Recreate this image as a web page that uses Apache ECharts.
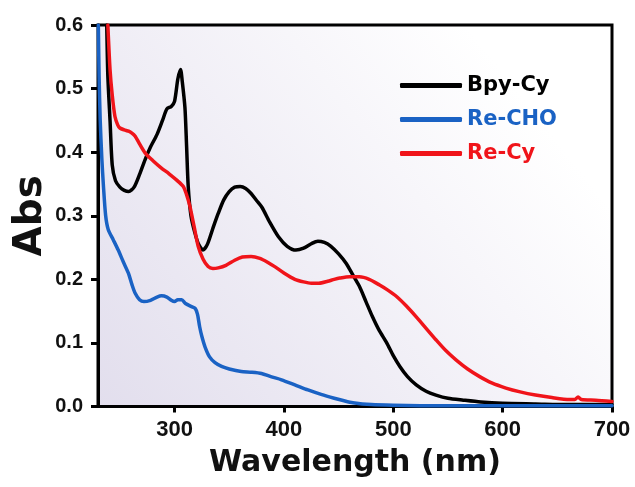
<!DOCTYPE html>
<html>
<head>
<meta charset="utf-8">
<style>
  html, body { margin: 0; padding: 0; background: #fff; }
  #chart { width: 635px; height: 487px; }
</style>
<script src="https://cdn.jsdelivr.net/npm/echarts@6/dist/echarts.min.js"></script>
</head>
<body>
<div id="chart"></div>
<script>
// UV-vis absorption spectra: [wavelength (nm), absorbance]
const bpyCy = [
  [238,0.60],[239,0.52],[241,0.45],[243,0.38],[246,0.355],[250,0.345],[254,0.340],[258,0.338],
  [263,0.345],[268,0.365],[273,0.388],[278,0.408],[284,0.428],[289,0.450],[293,0.468],[297,0.472],
  [300,0.480],[303,0.515],[305.5,0.530],[307,0.512],[309.5,0.470],[311,0.410],[312.5,0.346],
  [315,0.300],[318.6,0.273],[322,0.255],[326,0.246],[330,0.255],[335,0.280],[340,0.304],
  [345,0.325],[350,0.338],[355,0.345],[360,0.346],[365,0.343],[370,0.335],[375,0.324],[380,0.313],
  [387,0.290],[395,0.267],[403,0.252],[411,0.246],[418,0.249],[425,0.256],[431,0.260],[437,0.258],
  [443,0.252],[450,0.240],[457,0.225],[463,0.207],[469,0.189],[475,0.165],[481,0.141],[487,0.120],
  [494,0.100],[500,0.080],[506,0.063],[513,0.047],[521,0.034],[530,0.024],[539,0.018],[550,0.013],
  [564,0.010],[580,0.007],[600,0.005],[630,0.004],[660,0.003],[700,0.003]
];
const reCho = [
  [230.3,0.60],[231,0.52],[232,0.451],[233.5,0.390],[235,0.346],[237,0.300],[239.4,0.278],
  [244,0.262],[248.5,0.246],[253,0.228],[257.7,0.210],[261,0.192],[264,0.178],[268,0.168],
  [272,0.165],[278,0.167],[284,0.172],[288,0.174],[293,0.172],[297,0.167],[300,0.165],[303,0.168],
  [306.5,0.168],[310,0.162],[315.6,0.157],[319,0.154],[321,0.145],[323,0.125],[325,0.110],
  [328,0.093],[332,0.078],[337,0.069],[343,0.063],[350,0.059],[361,0.055],[370,0.054],[379.5,0.052],
  [388,0.047],[397.8,0.042],[410,0.034],[422,0.026],[434,0.019],[446,0.013],[455,0.009],[463,0.006],
  [480,0.003],[500,0.002],[550,0.001],[600,0.001],[700,0.001]
];
const reCy = [
  [239,0.60],[241,0.53],[243,0.49],[245.5,0.456],[248,0.443],[250,0.438],[254,0.435],[258,0.433],
  [261,0.430],[264,0.425],[268,0.413],[273,0.399],[280,0.387],[288,0.375],[295,0.366],[302,0.356],
  [308,0.346],[311,0.333],[314,0.315],[318,0.282],[321.6,0.252],[326,0.232],[330.7,0.220],
  [335,0.217],[340,0.218],[347,0.222],[355,0.230],[362,0.235],[370,0.236],[378,0.233],[385,0.227],
  [391.6,0.220],[400,0.210],[410,0.200],[418,0.196],[425,0.194],[432,0.194],[440,0.197],[446,0.200],
  [451,0.202],[460,0.204],[469,0.204],[478,0.200],[487.5,0.191],[495,0.183],[503,0.173],[512,0.158],
  [521,0.141],[530,0.123],[539,0.105],[548,0.088],[557.6,0.073],[568,0.059],[579,0.047],[590,0.037],
  [603,0.029],[616,0.023],[630,0.018],[645,0.014],[661,0.011],[666,0.011],[669,0.015],[672,0.011],
  [685,0.010],[700,0.008]
];
const xTicks = [300, 400, 500, 600, 700];

const seriesNames = ['Bpy-Cy', 'Re-CHO', 'Re-Cy'];
const seriesColors = ['#000000', '#1a62c4', '#f0141a'];
const seriesData = [bpyCy, reCho, reCy];

const chart = echarts.init(document.getElementById('chart'), null, { renderer: 'canvas' });

const tickFont = { color: '#111', fontWeight: 'bold', fontFamily: 'Liberation Sans, Arial, sans-serif' };
const titleFont = { color: '#111', fontWeight: 'bold', fontFamily: 'DejaVu Sans, sans-serif' };

chart.setOption({
  animation: false,
  grid: {
    left: 98, right: 23, top: 25, bottom: 80.5,
    outerBoundsMode: 'none',
    show: true,
    borderColor: '#000',
    borderWidth: 3,
    backgroundColor: new echarts.graphic.LinearGradient(0, 1, 0.8, 0.15, [
      { offset: 0, color: '#e2deed' },
      { offset: 1, color: '#ffffff' }
    ])
  },
  legend: {
    orient: 'vertical',
    left: 395,
    top: 70,
    itemWidth: 62,
    itemHeight: 5,
    itemGap: 13,
    icon: 'roundRect',
    data: seriesNames.map((n, i) => ({
      name: n,
      itemStyle: { color: seriesColors[i] },
      textStyle: { ...titleFont, color: seriesColors[i], fontSize: 21, lineHeight: 20 }
    }))
  },
  xAxis: {
    type: 'value',
    min: 230,
    max: 700,
    name: 'Wavelength (nm)',
    nameLocation: 'middle',
    nameGap: 42,
    nameMoveOverlap: false,
    nameTextStyle: { ...titleFont, fontSize: 30 },
    axisLine: { lineStyle: { color: '#000', width: 3 } },
    axisTick: { customValues: xTicks, length: 6, lineStyle: { color: '#000', width: 3 } },
    axisLabel: { customValues: xTicks, margin: 12, fontSize: 22, ...tickFont },
    splitLine: { show: false }
  },
  yAxis: {
    type: 'value',
    min: 0,
    max: 0.6,
    interval: 0.1,
    name: 'Abs',
    nameLocation: 'middle',
    nameGap: 48,
    nameMoveOverlap: false,
    nameTextStyle: { ...titleFont, fontSize: 39 },
    axisLine: { show: true, lineStyle: { color: '#000', width: 3 } },
    axisTick: { show: true, length: 7, lineStyle: { color: '#000', width: 3 } },
    axisLabel: { margin: 15, fontSize: 20, ...tickFont, formatter: v => v.toFixed(1) },
    splitLine: { show: false }
  },
  series: seriesData.map((d, i) => ({
    name: seriesNames[i],
    type: 'line',
    data: d,
    smooth: 0.25,
    symbol: 'none',
    clip: true,
    lineStyle: { color: seriesColors[i], width: 3.5, cap: 'round', join: 'round' },
    itemStyle: { color: seriesColors[i] },
    z: [2, 3, 4][i]
  }))
});
</script>
</body>
</html>
